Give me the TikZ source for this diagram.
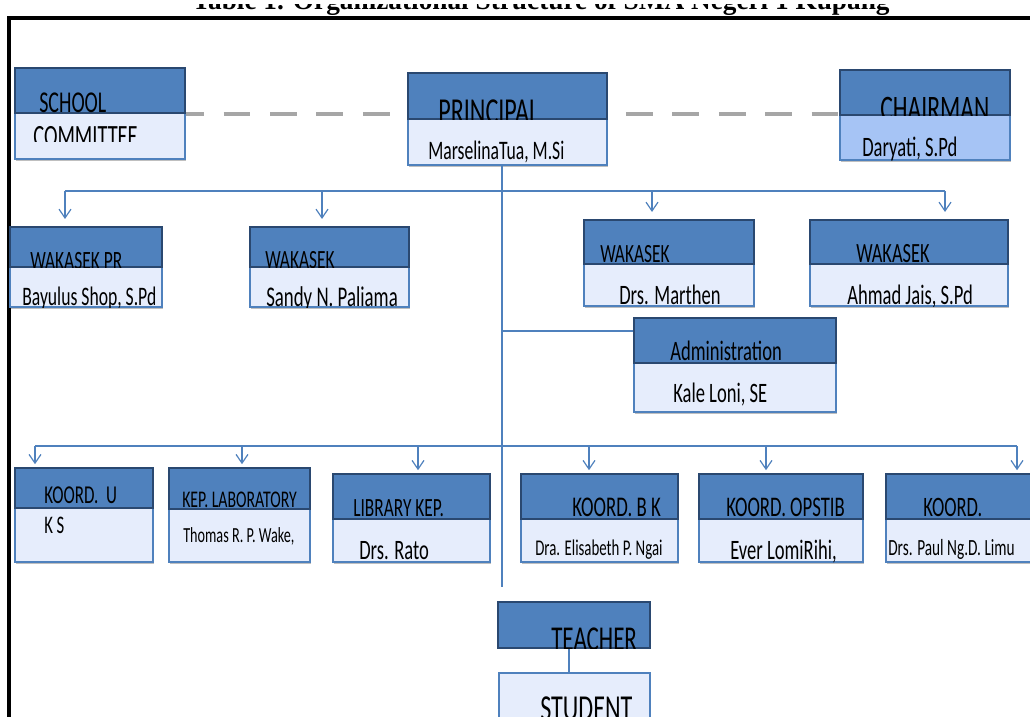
\documentclass[tikz,border=0pt]{standalone}
\usepackage{fontspec}
\usepackage{tikz}
\usetikzlibrary{arrows.meta,fit,shadows}
\newfontfamily\cfont[FakeStretch=0.66]{Carlito}
\newfontfamily\tfont{Liberation Serif}
\definecolor{hdblue}{HTML}{4F81BD}
\definecolor{hdline}{HTML}{2A4870}
\definecolor{bdfill}{HTML}{E6EDFC}
\definecolor{chfill}{HTML}{A6C4F5}
\definecolor{dashgray}{HTML}{A6A6A6}
\tikzset{
  hd/.style={draw=hdline,line width=1.4pt,fill=hdblue,inner sep=0pt},
  bd/.style={draw=hdblue,line width=1pt,fill=bdfill,inner sep=0pt,
             drop shadow={shadow xshift=1pt,shadow yshift=-1.5pt,fill=black!25,opacity=1}},
  lbl/.style={anchor=base west,inner sep=0pt,font=\cfont\fontsize{#1}{#1}\selectfont},
  ln/.style={draw=hdblue,line width=0.85pt},
  arr/.style={ln,-{Straight Barb[length=2.2mm,width=3mm]}},
  dsh/.style={draw=dashgray,line width=2.8pt,dash pattern=on 19pt off 14pt}}
\newcommand{\boxlbl}[5]{\begin{scope}
  \clip (#1.south west) rectangle (#1.north east);
  \node[lbl=#3] (#2) at #4 {#5};
  \end{scope}}

\begin{document}
\begin{tikzpicture}[x=0.025cm,y=-0.025cm]
\useasboundingbox (0,0) rectangle (1030,716);
\begin{scope}
  \clip (0,5) rectangle (1030,18);
  \node[font=\tfont\bfseries\fontsize{19.4}{19.4}\selectfont,anchor=base,inner sep=0pt]
    (title) at (541,9.5) {Table 1. Organizational Structure of SMA Negeri 1 Kupang};
\end{scope}
\draw[line width=2.2pt] (9,760) -- (9,18) -- (1060,18);

% top row
\node[bd,fit={(15,113) (185,159)}] (sc-b) {};
\node[hd,fit={(15,68) (185,113)}] (sc-h) {};
\boxlbl{sc-h}{sc-ht}{21.5}{(39,112)}{SCHOOL}
\begin{scope}
  \clip (15,113) rectangle (185,141);
  \node[lbl=22] (sc-bt) at (33,146) {COMMITTEE};
\end{scope}
\node[bd,fit={(408,119) (607,165)}] (prin-b) {};
\node[hd,fit={(408,73) (607,119)}] (prin-h) {};
\boxlbl{prin-h}{prin-ht}{26}{(438,123)}{PRINCIPAL}
\boxlbl{prin-b}{prin-bt}{19}{(428,159)}{MarselinaTua, M.Si}
\node[bd,fill=chfill,fit={(840,115) (1010,160)}] (ch-b) {};
\node[hd,fit={(840,70) (1010,115)}] (ch-h) {};
\boxlbl{ch-h}{ch-ht}{25.5}{(880,120)}{CHAIRMAN}
\boxlbl{ch-b}{ch-bt}{20}{(862,156)}{Daryati, S.Pd}
\draw[dsh,dash phase=6.2pt] (sc-h.south east |- 0,114) -- (prin-h.west |- 0,114);
\draw[dsh,dash phase=20.2pt] (prin-h.east |- 0,114) -- (ch-h.west |- 0,114);

% wakasek row
\node[bd,fit={(10,267) (162,307)}] (wk1-b) {};
\node[hd,fit={(10,227) (162,267)}] (wk1-h) {};
\boxlbl{wk1-h}{wk1-ht}{18.8}{(30,269)}{WAKASEK PR}
\boxlbl{wk1-b}{wk1-bt}{19}{(22,305)}{Bayulus Shop, S.Pd}
\node[bd,fit={(250,267) (409,307)}] (wk2-b) {};
\node[hd,fit={(250,227) (409,267)}] (wk2-h) {};
\boxlbl{wk2-h}{wk2-ht}{18.7}{(265,268)}{WAKASEK}
\boxlbl{wk2-b}{wk2-bt}{20.3}{(266,306)}{Sandy N. Paliama}
\node[bd,fit={(584,264) (754,306)}] (wk3-b) {};
\node[hd,fit={(584,220) (754,264)}] (wk3-h) {};
\boxlbl{wk3-h}{wk3-ht}{18.7}{(600,262)}{WAKASEK}
\boxlbl{wk3-b}{wk3-bt}{20}{(619,304)}{Drs. Marthen}
\node[bd,fit={(810,264) (1008,306)}] (wk4-b) {};
\node[hd,fit={(810,220) (1008,264)}] (wk4-h) {};
\boxlbl{wk4-h}{wk4-ht}{19.8}{(856,262)}{WAKASEK}
\boxlbl{wk4-b}{wk4-bt}{20}{(847,304)}{Ahmad Jais, S.Pd}

% administration
\node[bd,fit={(634,363) (836,412)}] (adm-b) {};
\node[hd,fit={(634,318) (836,363)}] (adm-h) {};
\boxlbl{adm-h}{adm-ht}{20}{(670,360)}{Administration}
\boxlbl{adm-b}{adm-bt}{20}{(673,402)}{Kale Loni, SE}

% coordinator row
\node[bd,fit={(15,508) (153,562)}] (ks-b) {};
\node[hd,fit={(15,468) (153,508)}] (ks-h) {};
\boxlbl{ks-h}{ks-ht}{18.3}{(44,503)}{KOORD.\ \ U}
\boxlbl{ks-b}{ks-bt}{18}{(44,533)}{K S}
\node[bd,fit={(169,509) (310,562)}] (lab-b) {};
\node[hd,fit={(169,468) (310,509)}] (lab-h) {};
\boxlbl{lab-h}{lab-ht}{17}{(182,507)}{KEP. LABORATORY}
\boxlbl{lab-b}{lab-bt}{15.3}{(183,542)}{Thomas R. P. Wake,}
\node[bd,fit={(333,519) (490,562)}] (lib-b) {};
\node[hd,fit={(333,474) (490,519)}] (lib-h) {};
\boxlbl{lib-h}{lib-ht}{18.7}{(353,516)}{LIBRARY KEP.}
\boxlbl{lib-b}{lib-bt}{20}{(359,559)}{Drs. Rato}
\node[bd,fit={(521,519) (678,562)}] (bk-b) {};
\node[hd,fit={(521,474) (678,519)}] (bk-h) {};
\boxlbl{bk-h}{bk-ht}{20.3}{(572,516)}{KOORD. B K}
\boxlbl{bk-b}{bk-bt}{16}{(535,555)}{Dra. Elisabeth P. Ngai}
\node[bd,fit={(699,519) (863,562)}] (ops-b) {};
\node[hd,fit={(699,474) (863,519)}] (ops-h) {};
\boxlbl{ops-h}{ops-ht}{20.2}{(726,516)}{KOORD. OPSTIB}
\boxlbl{ops-b}{ops-bt}{20}{(730,559)}{Ever LomiRihi,}
\node[bd,fit={(886,519) (1045,562)}] (lim-b) {};
\node[hd,fit={(886,474) (1045,519)}] (lim-h) {};
\boxlbl{lim-h}{lim-ht}{20}{(923,516)}{KOORD.}
\boxlbl{lim-b}{lim-bt}{16.5}{(888,555)}{Drs. Paul Ng.D. Limu}

% teacher and student
\node[hd,fit={(498,602) (650,648)}] (tch-h) {};
\boxlbl{tch-h}{tch-ht}{24.8}{(551,650)}{TEACHER}
\node[bd,fit={(499,673) (650,740)}] (stu-b) {};
\node[lbl=26] (stu-bt) at (540,720) {STUDENT};

% connectors
\coordinate (trunk-end) at (502,587);
\draw[ln] (prin-b.south -| trunk-end) -- (trunk-end);
\draw[ln] (65,191) -- (945,191);
\foreach \n/\x in {wk1/65,wk2/322,wk3/652,wk4/945}
  \draw[arr,shorten >=5pt] (\x,191) -- (\n-h.north -| \x,0);
\draw[ln] (trunk-end |- 0,331) -- (adm-h.west |- 0,331);
\draw[ln] (35,446) -- (1017,446);
\foreach \n/\x in {ks/35,lab/242,lib/418,bk/589,ops/766,lim/1017}
  \draw[arr,shorten >=2pt] (\x,446) -- (\n-h.north -| \x,0);
\draw[ln] (tch-h.south -| 569,0) -- (stu-b.north -| 569,0);
\end{tikzpicture}
\end{document}
